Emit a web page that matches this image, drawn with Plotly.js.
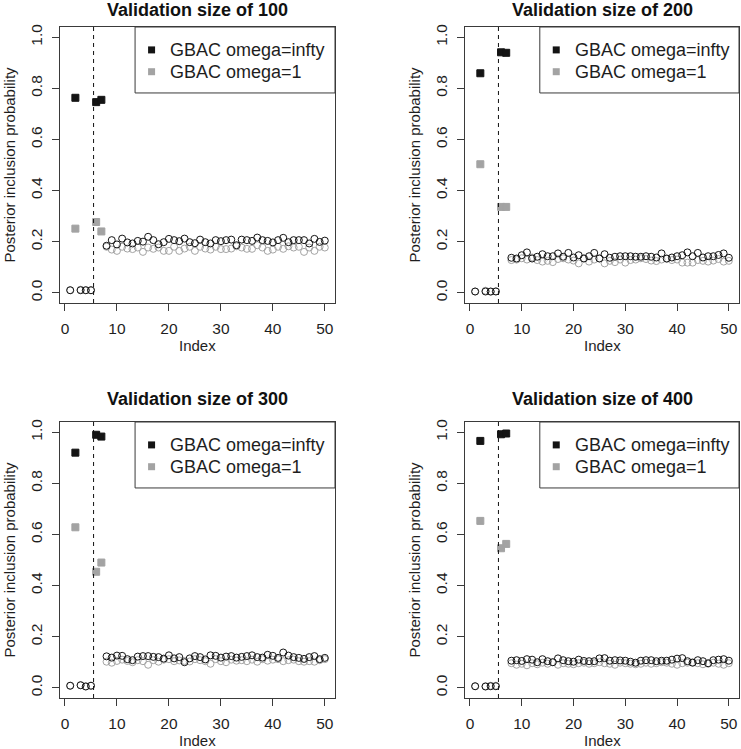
<!DOCTYPE html>
<html>
<head>
<meta charset="utf-8">
<script src="https://cdn.plot.ly/plotly-3.0.1.min.js"></script>
<style>html,body{margin:0;padding:0;background:#fff;}#chart{width:741px;height:749px;}</style>
</head>
<body>
<div id="chart"></div>
<script>
// ---- data ----
const indexValues = Array.from({length: 50}, (_, i) => i + 1);
const trueIndices = [2, 6, 7];
const panelTitles = ['Validation size of 100', 'Validation size of 200', 'Validation size of 300', 'Validation size of 400'];
const seriesNames = ['GBAC omega=infty', 'GBAC omega=1'];
const xTickVals = [0, 10, 20, 30, 40, 50];
const yTickVals = [0, 0.2, 0.4, 0.6, 0.8, 1.0];
const cutoff = 5.5;

const infty100 = [0.010,0.763,0.010,0.010,0.010,0.746,0.755,
  0.184,0.206,0.189,0.212,0.197,0.193,0.203,0.200,0.219,0.206,0.190,0.198,0.211,0.206,0.202,0.212,0.198,0.194,0.208,0.198,
  0.193,0.206,0.202,0.206,0.208,0.186,0.208,0.206,0.203,0.216,0.206,0.203,0.197,0.206,0.215,0.198,0.206,0.206,0.206,0.193,
  0.211,0.199,0.204];
const one100 = [0.010,0.251,0.012,0.010,0.010,0.277,0.240,
  0.180,0.169,0.164,0.180,0.173,0.171,0.177,0.160,0.177,0.172,0.177,0.164,0.164,0.180,0.164,0.173,0.180,0.164,0.180,0.173,
  0.169,0.180,0.171,0.171,0.173,0.182,0.177,0.172,0.172,0.186,0.177,0.164,0.169,0.180,0.172,0.182,0.177,0.180,0.160,0.177,
  0.164,0.180,0.177];

const infty200 = [0.005,0.859,0.005,0.005,0.005,0.941,0.939,
  0.137,0.134,0.147,0.158,0.134,0.141,0.151,0.143,0.143,0.154,0.141,0.156,0.138,0.147,0.134,0.143,0.156,0.134,0.151,0.137,
  0.141,0.143,0.143,0.143,0.141,0.141,0.143,0.141,0.138,0.154,0.134,0.138,0.143,0.147,0.158,0.143,0.156,0.138,0.143,0.143,
  0.148,0.154,0.137];
const one200 = [0.005,0.503,0.008,0.004,0.006,0.336,0.336,
  0.128,0.130,0.135,0.130,0.138,0.128,0.122,0.125,0.120,0.132,0.135,0.130,0.126,0.115,0.135,0.122,0.130,0.135,0.115,0.125,
  0.120,0.130,0.118,0.128,0.130,0.135,0.132,0.126,0.124,0.130,0.133,0.128,0.130,0.118,0.118,0.118,0.128,0.125,0.122,0.126,
  0.132,0.122,0.125];

const infty300 = [0.008,0.920,0.010,0.005,0.008,0.990,0.983,
  0.123,0.118,0.126,0.125,0.112,0.108,0.122,0.124,0.124,0.121,0.120,0.114,0.127,0.115,0.120,0.100,0.115,0.124,0.120,0.111,
  0.127,0.125,0.118,0.122,0.124,0.118,0.121,0.124,0.127,0.120,0.118,0.129,0.125,0.117,0.138,0.126,0.120,0.117,0.113,0.120,
  0.124,0.112,0.117];
const one300 = [0.008,0.628,0.010,0.006,0.008,0.454,0.490,
  0.102,0.098,0.105,0.110,0.105,0.100,0.108,0.104,0.090,0.108,0.102,0.110,0.112,0.104,0.107,0.105,0.103,0.112,0.108,0.104,
  0.094,0.112,0.104,0.100,0.110,0.106,0.108,0.104,0.110,0.102,0.112,0.106,0.110,0.112,0.104,0.108,0.110,0.104,0.102,0.104,
  0.102,0.108,0.112];

const infty400 = [0.006,0.966,0.005,0.006,0.006,0.992,0.995,
  0.106,0.108,0.105,0.112,0.110,0.100,0.112,0.104,0.100,0.115,0.108,0.104,0.102,0.110,0.105,0.104,0.104,0.115,0.116,0.106,
  0.108,0.107,0.106,0.102,0.098,0.106,0.108,0.108,0.104,0.106,0.106,0.110,0.114,0.116,0.104,0.098,0.108,0.104,0.096,0.108,
  0.110,0.112,0.106];
const one400 = [0.006,0.653,0.006,0.008,0.008,0.546,0.563,
  0.096,0.090,0.094,0.088,0.096,0.092,0.098,0.094,0.100,0.090,0.096,0.094,0.092,0.096,0.098,0.094,0.096,0.100,0.096,0.094,
  0.090,0.098,0.096,0.094,0.092,0.094,0.098,0.094,0.096,0.100,0.098,0.094,0.090,0.096,0.098,0.100,0.096,0.092,0.094,0.098,
  0.094,0.090,0.096];

// ---- styling ----
const BLACK = '#141414';
const GRAY = '#a3a3a3';
const AXIS = '#3a3a3a';
const TEXT = '#1e1e1e';
const FONT = 'Liberation Sans, Arial, Helvetica, sans-serif';

const panelData = [[infty100, one100], [infty200, one200], [infty300, one300], [infty400, one400]];
const xDomains = [[60/741, 335/741], [465/741, 739/741]];
const yDomains = [[1 - 303/749, 1 - 27/749], [1 - 698/749, 1 - 422/749]];
const titleY = [1 - 10/749, 1 - 399/749];

const symbols = indexValues.map(i => trueIndices.includes(i) ? 'square' : 'circle-open');

const traces = [];
const layout = {
  width: 741, height: 749,
  margin: {l: 0, r: 0, t: 0, b: 0},
  paper_bgcolor: '#fff', plot_bgcolor: '#fff',
  showlegend: false,
  font: {family: FONT, color: TEXT, size: 15},
  shapes: [], annotations: []
};

panelData.forEach((pair, p) => {
  const row = Math.floor(p / 2), col = p % 2;
  const n = p + 1;
  const xa = 'xaxis' + (n === 1 ? '' : n), ya = 'yaxis' + (n === 1 ? '' : n);
  const xr = 'x' + (n === 1 ? '' : n), yr = 'y' + (n === 1 ? '' : n);
  layout[xa] = {
    domain: xDomains[col], anchor: yr, range: [-0.96, 51.96],
    showgrid: false, zeroline: false, showline: true, mirror: true, linecolor: AXIS, linewidth: 1,
    ticks: 'outside', ticklen: 7, tickcolor: AXIS, tickwidth: 1,
    tickvals: xTickVals, tickfont: {size: 15.5, color: TEXT}, ticklabelstandoff: 4
  };
  layout[ya] = {
    domain: yDomains[row], anchor: xr, range: [-0.04, 1.04],
    showgrid: false, zeroline: false, showline: true, mirror: true, linecolor: AXIS, linewidth: 1,
    ticks: 'outside', ticklen: 7, tickcolor: AXIS, tickwidth: 1,
    tickvals: yTickVals, tickformat: '.1f', tickangle: -90, tickfont: {size: 15.5, color: TEXT}, ticklabelstandoff: 4
  };
  // gray series first, black on top
  [[pair[1], GRAY], [pair[0], BLACK]].forEach(([vals, color], k) => {
    traces.push({
      type: 'scatter', mode: 'markers', x: indexValues, y: vals, xaxis: xr, yaxis: yr,
      name: seriesNames[1 - k], hoverinfo: 'skip',
      marker: {symbol: symbols, size: 7, opacity: 1, color: color, line: {color: color, width: 1}}
    });
  });
  // dashed cutoff line
  layout.shapes.push({type: 'line', xref: xr, yref: yr + ' domain', x0: cutoff, x1: cutoff, y0: 0, y1: 1,
    line: {color: '#111', width: 1, dash: '4px,4px'}});
  // legend box
  layout.shapes.push({type: 'rect', xref: xr + ' domain', yref: yr + ' domain', x0: 0.273, x1: 1, y0: 0.761, y1: 1,
    line: {color: AXIS, width: 1}, fillcolor: 'rgba(0,0,0,0)'});
  const legY = [0.917, 0.838];
  [BLACK, GRAY].forEach((c, k) => {
    layout.shapes.push({type: 'rect', xref: xr + ' domain', yref: yr + ' domain',
      xsizemode: 'pixel', ysizemode: 'pixel', xanchor: 0.333, yanchor: legY[k],
      x0: -3.5, x1: 3.5, y0: -3.5, y1: 3.5, line: {width: 0}, fillcolor: c});
    layout.annotations.push({xref: xr + ' domain', yref: yr + ' domain', x: 0.394, y: legY[k],
      xanchor: 'left', yanchor: 'middle', showarrow: false, text: seriesNames[k],
      font: {size: 18, color: TEXT, family: FONT}});
  });
  // panel title
  layout.annotations.push({xref: 'paper', yref: 'paper', x: (xDomains[col][0] + xDomains[col][1]) / 2, y: titleY[row],
    xanchor: 'center', yanchor: 'middle', showarrow: false, text: '<b>' + panelTitles[p] + '</b>',
    font: {size: 18, color: '#111', family: FONT}});
  // axis titles
  layout.annotations.push({xref: xr + ' domain', yref: yr + ' domain', x: 0.5, y: 0, yshift: -42,
    xanchor: 'center', yanchor: 'middle', showarrow: false, text: 'Index', font: {size: 15, color: TEXT, family: FONT}});
  layout.annotations.push({xref: xr + ' domain', yref: yr + ' domain', x: 0, y: 0.5, xshift: -51.5,
    xanchor: 'center', yanchor: 'middle', showarrow: false, textangle: -90,
    text: 'Posterior inclusion probability', font: {size: 15, color: TEXT, family: FONT}});
});

Plotly.newPlot('chart', traces, layout, {staticPlot: true, displayModeBar: false});
</script>
</body>
</html>
